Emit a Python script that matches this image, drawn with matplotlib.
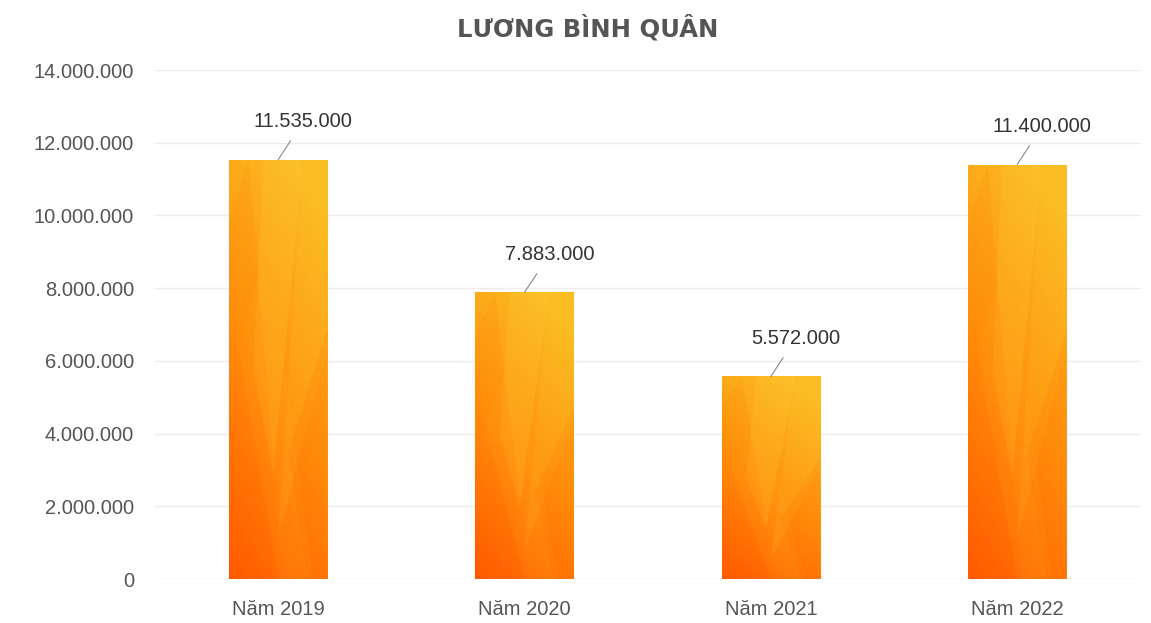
import matplotlib
import matplotlib.pyplot as plt
import numpy as np
from matplotlib.patches import Polygon

matplotlib.use("Agg")

plt.rcParams["font.family"] = ["Liberation Sans", "DejaVu Sans"]

categories = ["Năm 2019", "Năm 2020", "Năm 2021", "Năm 2022"]
salaries = [11535000, 7883000, 5572000, 11400000]
y_ticks = [0, 2000000, 4000000, 6000000, 8000000, 10000000, 12000000, 14000000]

TEXT_GRAY = "#555555"
GRID_GRAY = "#ececec"


def fmt_vn(v):
    return f"{v:,}".replace(",", ".")


def gradient_image():
    """Dải màu chéo: đỏ cam ở góc dưới trái, vàng cam ở góc trên phải."""
    ny, nx = 200, 60
    t = np.linspace(0, 1, ny)[:, None]  # 0 = đáy, 1 = đỉnh
    s = np.linspace(0, 1, nx)[None, :]
    stops = np.array([[255, 88, 0], [255, 145, 12], [251, 188, 34]]) / 255
    mix = np.clip(t * 0.8 + s * 0.3, 0, 1)
    lo = np.clip(mix * 2, 0, 1)[..., None]
    hi = np.clip(mix * 2 - 1, 0, 1)[..., None]
    img = np.where(mix[..., None] < 0.5,
                   stops[0] * (1 - lo) + stops[1] * lo,
                   stops[1] * (1 - hi) + stops[2] * hi)
    return img


fig = plt.figure(figsize=(11.51, 6.23), dpi=100)
ax = fig.add_axes([0.1347, 0.0706, 0.856, 0.817])

x = np.arange(len(categories))
width = 0.4
bars = ax.bar(x, salaries, width=width, color="none", zorder=3)

img = gradient_image()
for bar in bars:
    x0, w, h = bar.get_x(), bar.get_width(), bar.get_height()
    im = ax.imshow(img, extent=[x0, x0 + w, 0, h], origin="lower",
                   aspect="auto", zorder=3)
    im.set_clip_path(bar)
    # các vệt sáng / tối chéo trên cột
    streaks = [
        ([(x0 + 0.35 * w, h), (x0 + 0.75 * w, h), (x0 + 0.45 * w, 0.25 * h),
          (x0 + 0.25 * w, 0.5 * h)], "#ffd040", 0.2),
        ([(x0 + 0.75 * w, h), (x0 + w, h), (x0 + w, 0.55 * h),
          (x0 + 0.5 * w, 0.1 * h)], "#ffc830", 0.15),
        ([(x0 + 0.1 * w, 0.55 * h), (x0 + 0.5 * w, 0), (x0 + 0.85 * w, 0),
          (x0 + 0.4 * w, 0.8 * h)], "#ffb020", 0.15),
        ([(x0, 0.85 * h), (x0 + 0.2 * w, h), (x0 + 0.55 * w, 0),
          (x0, 0)], "#ff6a00", 0.1),
        ([(x0 + 0.6 * w, 0.3 * h), (x0 + w, 0.6 * h), (x0 + w, 0),
          (x0 + 0.8 * w, 0)], "#ff5a00", 0.12),
    ]
    for pts, col, a in streaks:
        poly = Polygon(pts, closed=True, facecolor=col, edgecolor="none",
                       alpha=a, zorder=4)
        ax.add_patch(poly)
        poly.set_clip_path(bar)

for xi, v in zip(x, salaries):
    ax.annotate(
        fmt_vn(v), xy=(xi, v), xytext=(25, 38), textcoords="offset pixels",
        ha="center", va="center", fontsize=14.5, color="#333333",
        arrowprops=dict(arrowstyle="-", color="#888888", lw=0.8,
                        shrinkA=6, shrinkB=0),
        zorder=5,
    )

ax.set_xlim(-0.5, len(categories) - 0.5)
ax.set_ylim(0, 14000000)
ax.set_yticks(y_ticks)
ax.set_yticklabels([fmt_vn(t) for t in y_ticks])
ax.set_xticks(x)
ax.set_xticklabels(categories)
ax.tick_params(axis="both", length=0, labelsize=14.5, colors=TEXT_GRAY)
ax.tick_params(axis="y", pad=15)
ax.tick_params(axis="x", pad=15)
ax.grid(axis="y", color=GRID_GRAY, lw=1, zorder=0)
for spine in ax.spines.values():
    spine.set_visible(False)

fig.text(0.511, 0.955, "LƯƠNG BÌNH QUÂN", ha="center", va="center",
         fontsize=17.5, fontweight="bold", color=TEXT_GRAY,
         family=["DejaVu Sans"])

fig.savefig("out.png", dpi=100)
plt.close(fig)
